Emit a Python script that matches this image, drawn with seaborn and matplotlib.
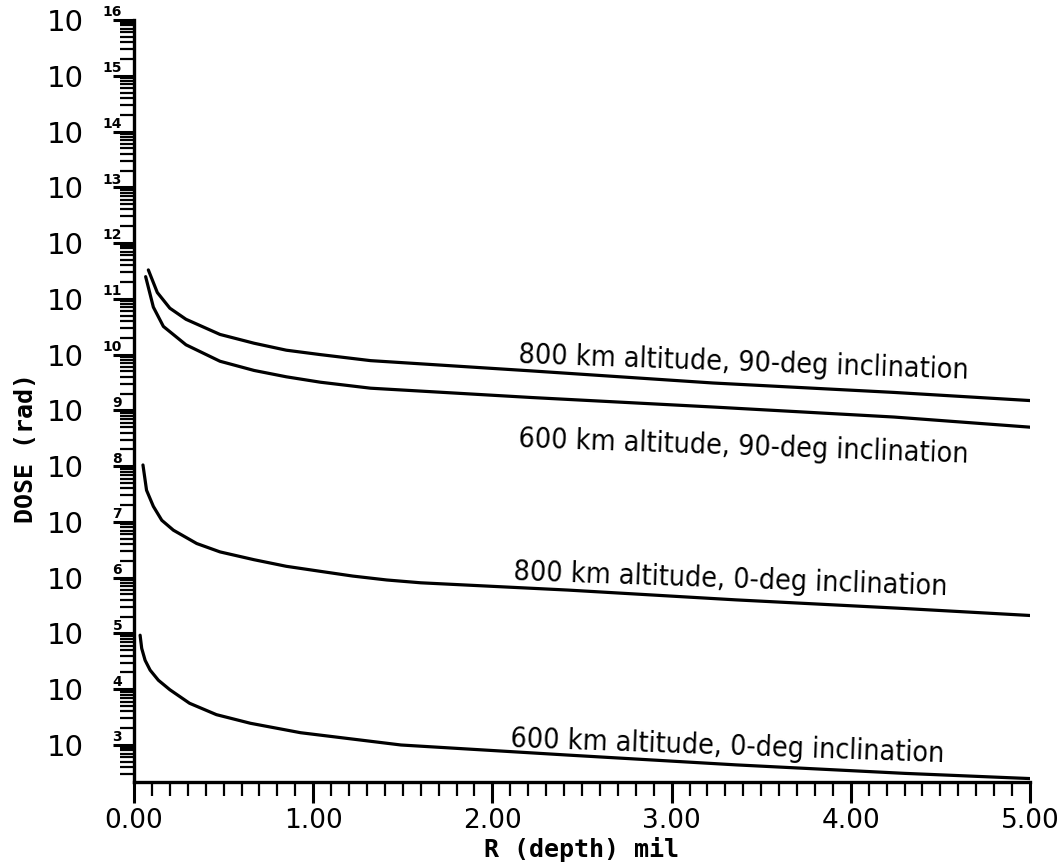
import numpy as np
import pandas as pd
import matplotlib
matplotlib.use("Agg")
import matplotlib.pyplot as plt
import seaborn as sns
from matplotlib.ticker import FixedLocator, LogLocator, NullFormatter, FixedFormatter, MultipleLocator

sns.set_style("ticks")
plt.rcParams['font.family'] = ['DejaVu Sans']
plt.rcParams['text.color'] = 'black'
plt.rcParams['axes.labelcolor'] = 'black'

# ---------------- data ----------------
depth_800_90 = [0.08, 0.13, 0.20, 0.29, 0.48, 0.67, 0.85, 1.04, 1.32, 2.22, 3.23, 4.24, 5.00]
dose_800_90 = [3.3e11, 1.3e11, 6.8e10, 4.3e10, 2.3e10, 1.6e10, 1.2e10, 1.0e10, 7.8e9, 5.1e9, 3.1e9, 2.1e9, 1.5e9]

depth_600_90 = [0.065, 0.108, 0.164, 0.29, 0.48, 0.67, 0.85, 1.04, 1.32, 2.22, 3.23, 4.24, 5.00]
dose_600_90 = [2.5e11, 7.1e10, 3.2e10, 1.5e10, 7.6e9, 5.2e9, 4.0e9, 3.2e9, 2.5e9, 1.7e9, 1.15e9, 7.6e8, 5.0e8]

depth_800_0 = [0.05, 0.07, 0.108, 0.155, 0.22, 0.35, 0.48, 0.67, 0.85, 1.04, 1.22, 1.41, 1.60, 2.42, 3.36, 4.30, 5.00]
dose_800_0 = [1.05e8, 3.7e7, 1.9e7, 1.07e7, 7.1e6, 4.1e6, 2.9e6, 2.1e6, 1.6e6, 1.3e6, 1.07e6, 9.1e5, 8.1e5, 6.0e5, 4.0e5, 2.8e5, 2.1e5]

depth_600_0 = [0.034, 0.043, 0.062, 0.09, 0.136, 0.20, 0.31, 0.46, 0.65, 0.93, 1.49, 2.42, 3.36, 4.30, 5.00]
dose_600_0 = [9.3e4, 5.4e4, 3.3e4, 2.2e4, 1.45e4, 9.8e3, 5.6e3, 3.5e3, 2.45e3, 1.66e3, 1.0e3, 6.6e2, 4.4e2, 3.1e2, 2.5e2]

case_labels = ["800 km altitude, 90-deg inclination",
               "600 km altitude, 90-deg inclination",
               "800 km altitude, 0-deg inclination",
               "600 km altitude, 0-deg inclination"]

x_tick_values = [0, 1, 2, 3, 4, 5]
x_tick_labels = ["0.00", "1.00", "2.00", "3.00", "4.00", "5.00"]
y_exponents = list(range(3, 17))

x_title = "R (depth) mil"
y_title = "DOSE (rad)"

# label anchor positions (data coords)
label_pos = [(3.40, 10**9.86), (3.40, 10**8.34), (3.33, 10**5.96), (3.31, 10**2.98)]

# ---------------- figure ----------------
fig = plt.figure(figsize=(10.59, 8.68), dpi=100)
ax = fig.add_axes([134/1059, 1-782/868, 896/1059, 762/868])

series = [(depth_800_90, dose_800_90), (depth_600_90, dose_600_90),
          (depth_800_0, dose_800_0), (depth_600_0, dose_600_0)]
frames = []
for lab, (xs, ys) in zip(case_labels, series):
    frames.append(pd.DataFrame({"depth": xs, "dose": ys, "case": lab}))
df = pd.concat(frames, ignore_index=True)

sns.lineplot(data=df, x="depth", y="dose", units="case", estimator=None,
             color="black", linewidth=2.3, sort=False, ax=ax)

ax.set_yscale("log")
ax.set_xlim(0, 5)
ax.set_ylim(217, 1e16)

sns.despine(ax=ax)
for s in ("left", "bottom"):
    ax.spines[s].set_linewidth(2.4)
    ax.spines[s].set_color("black")

# y ticks
ax.yaxis.set_major_locator(FixedLocator([10.0**e for e in y_exponents]))
ax.yaxis.set_major_formatter(FixedFormatter(["10"] * len(y_exponents)))
ax.yaxis.set_minor_locator(LogLocator(base=10, subs=np.arange(2, 10), numticks=200))
ax.yaxis.set_minor_formatter(NullFormatter())
ax.tick_params(axis="y", which="major", direction="out", length=15, width=2.2,
               pad=21, labelsize=21, colors="black")
ax.tick_params(axis="y", which="minor", direction="out", length=10, width=1.6, colors="black")

for e in y_exponents:
    ax.annotate(str(e), xy=(0, 10.0**e), xycoords=("axes fraction", "data"),
                xytext=(-8.5, 5.5), textcoords="offset points",
                ha="right", va="center", fontsize=10, fontweight="bold", color="black")

# x ticks
ax.xaxis.set_major_locator(FixedLocator(x_tick_values))
ax.xaxis.set_major_formatter(FixedFormatter(x_tick_labels))
ax.xaxis.set_minor_locator(MultipleLocator(0.1))
ax.tick_params(axis="x", which="major", direction="out", length=15, width=2.2,
               pad=4, labelsize=19, colors="black")
ax.tick_params(axis="x", which="minor", direction="out", length=10, width=1.6, colors="black")

# axis titles
ax.set_xlabel(x_title, family="DejaVu Sans Mono", fontweight="bold", fontsize=18, va="center")
ax.xaxis.set_label_coords(0.5, -0.089)
ax.set_ylabel(y_title, family="DejaVu Sans Mono", fontweight="bold", fontsize=18, va="center")
ax.yaxis.set_label_coords(-0.1205, 0.438)

# curve labels
for lab, (lx, ly) in zip(case_labels, label_pos):
    ax.text(lx, ly, lab, ha="center", va="center", rotation=-2, rotation_mode="anchor",
            family=["DejaVu Sans"], fontstretch="condensed", fontsize=20.5, color="black")

fig.savefig("out.png", dpi=100)
